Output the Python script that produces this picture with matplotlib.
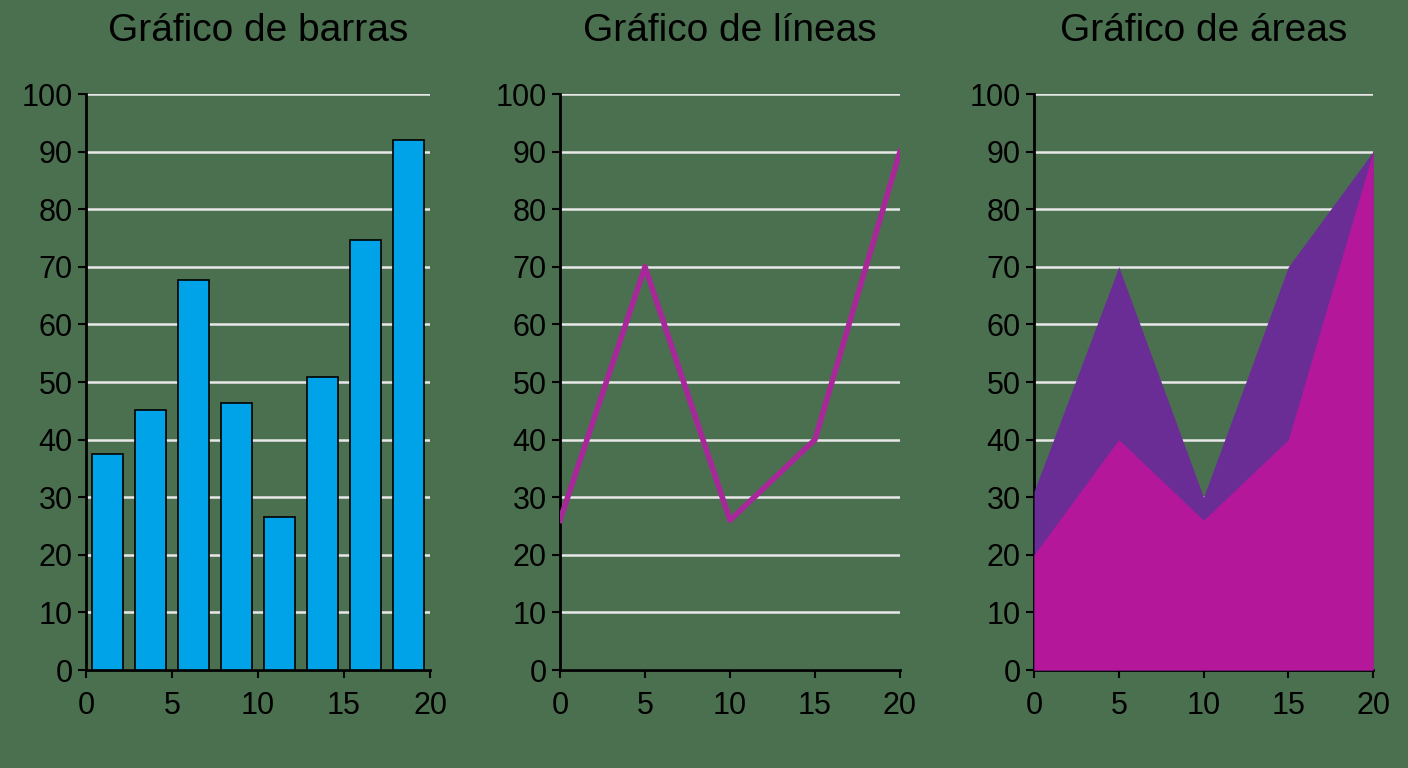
import matplotlib
matplotlib.use("Agg")
import matplotlib.pyplot as plt

bar_x = [1.25, 3.75, 6.25, 8.75, 11.25, 13.75, 16.25, 18.75]
bar_vals = [37.5, 45.2, 67.7, 46.4, 26.5, 50.8, 74.7, 92]
line_x = [0, 5, 10, 15, 20]
line_vals = [26, 70, 26, 40, 90]
area_top = [31, 70, 30, 70, 90]
area_bottom = [20, 40, 26, 40, 90]
titles = ["Gráfico de barras", "Gráfico de líneas", "Gráfico de áreas"]

bg = "#4a7050"
plt.rcParams['font.family'] = ['Liberation Sans', 'DejaVu Sans']
fig = plt.figure(figsize=(14.08, 7.68), dpi=100, facecolor=bg)
lefts = [0.0611, 0.3977, 0.7344]
widths = [0.2443, 0.2415, 0.2408]
axes = []
for l, w, t in zip(lefts, widths, titles):
    ax = fig.add_axes([l, 0.1276, w, 0.75])
    ax.set_facecolor(bg)
    ax.set_xlim(0, 20); ax.set_ylim(0, 100)
    ax.set_yticks(range(0, 101, 10)); ax.set_xticks(range(0, 21, 5))
    ax.grid(axis='y', color='#e8e8e8', lw=1.8)
    ax.set_axisbelow(True)
    for s in ['top', 'right']:
        ax.spines[s].set_visible(False)
    for s in ['left', 'bottom']:
        ax.spines[s].set_linewidth(2); ax.spines[s].set_color('black')
    ax.tick_params(labelsize=22, colors='black', length=6, width=1.5)
    ax.tick_params(axis='x', pad=9)
    ax.set_title(t, fontsize=28, pad=38, color='black')
    axes.append(ax)

axes[0].bar(bar_x, bar_vals, width=1.85, color='#00a2e8', edgecolor='black', lw=1.2, zorder=3)
axes[1].plot(line_x, line_vals, color='#a8289a', lw=4, zorder=3)
axes[2].fill_between(line_x, 0, area_top, color='#6a2d96', zorder=3, lw=0)
axes[2].fill_between(line_x, 0, area_bottom, color='#b5179b', zorder=4, lw=0)
fig.savefig("out.png", dpi=100, facecolor=bg)
